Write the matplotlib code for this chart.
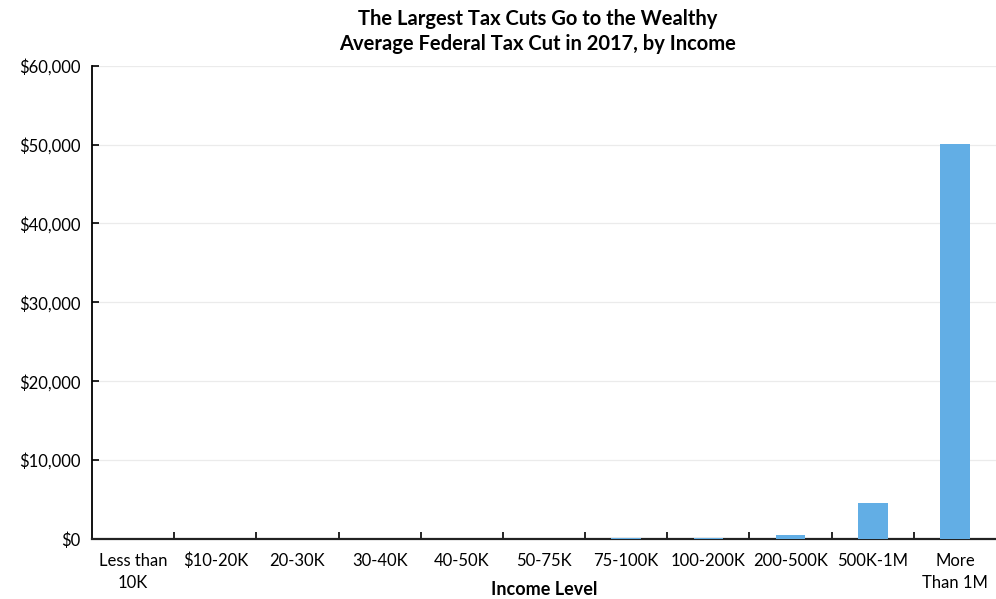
import matplotlib.pyplot as plt
from matplotlib.ticker import FuncFormatter

plt.rcParams['font.family'] = ['Lato', 'DejaVu Sans']

categories = ["Less than\n10K", "$10-20K", "20-30K", "30-40K", "40-50K", "50-75K",
              "75-100K", "100-200K", "200-500K", "500K-1M", "More\nThan 1M"]
avg_tax_cut = [5, 15, 25, 35, 40, 60, 80, 190, 560, 4570, 50100]
y_ticks = [0, 10000, 20000, 30000, 40000, 50000, 60000]

fig = plt.figure(figsize=(9.96, 5.99), dpi=100)
ax = fig.add_axes([92 / 996, 1 - 539 / 599, (996 - 92) / 996, (539 - 65.7) / 599])

x = range(len(categories))
ax.bar(x, avg_tax_cut, width=0.36, color='#62AEE5', zorder=3)

ax.set_xlim(-0.5, len(categories) - 0.5)
ax.set_ylim(0, 60000)
ax.set_yticks(y_ticks)
ax.yaxis.set_major_formatter(FuncFormatter(lambda v, p: f"${v:,.0f}"))
ax.grid(axis='y', color='#EBEBEB', linewidth=0.9, zorder=0)

ax.set_xticks(list(x))
ax.set_xticklabels(categories, fontsize=12, linespacing=1.45)
ax.set_xticks([i + 0.5 for i in range(len(categories) - 1)], minor=True)
ax.tick_params(axis='x', which='major', length=0, pad=10)
ax.tick_params(axis='x', which='minor', direction='in', length=5, width=1.2, color='black')
ax.tick_params(axis='y', direction='in', length=5, width=1.2, labelsize=12, pad=8)

for side in ('top', 'right'):
    ax.spines[side].set_visible(False)
ax.spines['left'].set_linewidth(1.3)
ax.spines['bottom'].set_linewidth(1.6)
ax.spines['bottom'].set_color('#222222')

ax.set_xlabel("Income Level", fontsize=13, fontweight='bold', labelpad=-7)
fig.text(0.54, 1 - 31.5 / 599,
         "The Largest Tax Cuts Go to the Wealthy\nAverage Federal Tax Cut in 2017, by Income",
         ha='center', va='center', fontsize=14.5, fontweight='bold', linespacing=1.35)

fig.savefig("out.png", dpi=100)
